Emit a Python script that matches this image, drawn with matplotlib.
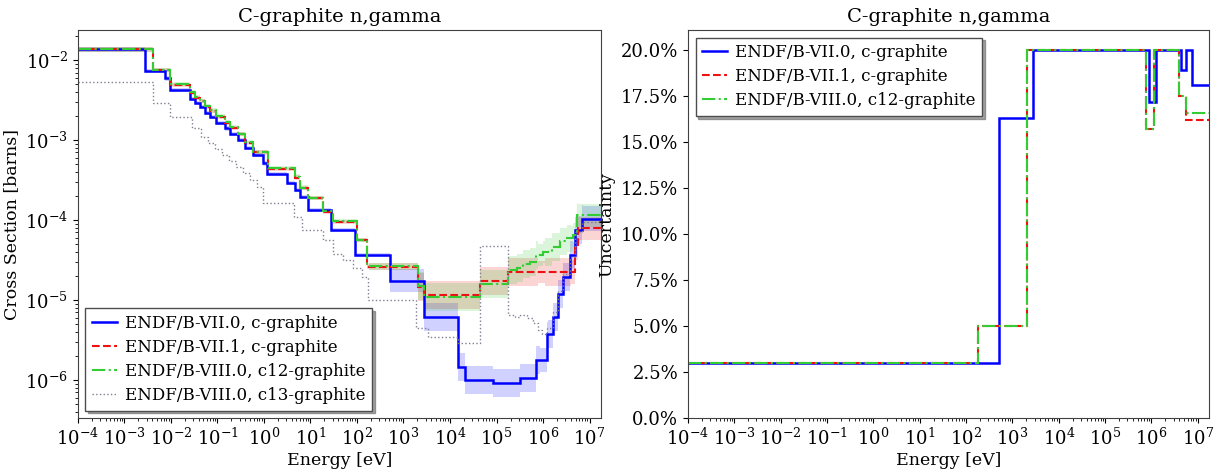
import numpy as np
import matplotlib
matplotlib.use("Agg")
import matplotlib.pyplot as plt
from matplotlib.ticker import LogLocator, PercentFormatter, MultipleLocator

plt.rcParams['font.family'] = ['DejaVu Serif']
plt.rcParams['mathtext.fontset'] = 'dejavuserif'

# ---------------- data ----------------
title = "C-graphite n,gamma"
labels = ["ENDF/B-VII.0, c-graphite", "ENDF/B-VII.1, c-graphite",
          "ENDF/B-VIII.0, c12-graphite", "ENDF/B-VIII.0, c13-graphite"]

# ENDF/B-VII.0 cross section (group edges in eV, values in barns)
e70 = [1e-4, 2.75e-3, 7.4e-3, 9.5e-3, 2.57e-2, 3.3e-2, 4.2e-2, 5.4e-2, 6.9e-2, 9.5e-2,
       0.145, 0.186, 0.28, 0.39, 0.59, 0.97, 1.15, 3.1, 4.7, 5.9, 8.9, 28, 91, 513,
       2750, 1.5e4, 2.1e4, 8.5e4, 3.2e5, 7.2e5, 1.2e6, 1.66e6, 2.1e6, 2.75e6, 3.8e6,
       4.9e6, 6.8e6, 2e7]
xs70 = [1.36e-2, 7.35e-3, 5.9e-3, 4.2e-3, 3.3e-3, 2.9e-3, 2.6e-3, 2.2e-3, 1.95e-3,
        1.65e-3, 1.4e-3, 1.2e-3, 1.0e-3, 7.9e-4, 6.5e-4, 5.1e-4, 3.8e-4, 2.9e-4, 2.4e-4,
        1.95e-4, 1.33e-4, 7.5e-5, 3.65e-5, 1.75e-5, 6.2e-6, 1.47e-6, 1.0e-6, 9.1e-7,
        1.05e-6, 1.78e-6, 3.8e-6, 6.2e-6, 1.2e-5, 1.94e-5, 3.65e-5, 7.5e-5, 1.04e-4]

# ENDF/B-VII.1 cross section
e71 = [1e-4, 4.1e-3, 9.5e-3, 2.57e-2, 3.3e-2, 4.2e-2, 5.4e-2, 6.9e-2, 9.5e-2, 0.145,
       0.186, 0.28, 0.39, 0.59, 1.23, 4.7, 5.9, 8.9, 18.6, 31, 98, 162, 2100, 2700,
       4.5e4, 1.8e5, 4.9e6, 5.7e6, 2e7]
xs71 = [1.36e-2, 7.5e-3, 4.9e-3, 3.9e-3, 3.4e-3, 3.05e-3, 2.6e-3, 2.3e-3, 1.95e-3,
        1.65e-3, 1.42e-3, 1.18e-3, 9.3e-4, 7.0e-4, 4.4e-4, 3.4e-4, 2.5e-4, 1.87e-4,
        1.27e-4, 9.5e-5, 5.6e-5, 2.6e-5, 1.47e-5, 1.15e-5, 1.74e-5, 2.25e-5, 4.5e-5,
        7.9e-5]

# ENDF/B-VIII.0 c12 cross section
e80 = [1e-4, 4.1e-3, 9.5e-3, 2.57e-2, 3.3e-2, 4.2e-2, 5.4e-2, 6.9e-2, 9.5e-2, 0.145,
       0.186, 0.28, 0.39, 0.59, 1.23, 4.7, 5.9, 8.9, 18.6, 31, 98, 162, 2100, 2700,
       4.5e4, 1.8e5, 2.75e5, 3.8e5, 5.2e5, 7.2e5, 1.02e6, 1.55e6, 2.35e6, 3.2e6,
       4.5e6, 5.25e6, 2e7]
xs80 = [1.36e-2, 7.5e-3, 5.0e-3, 4.0e-3, 3.5e-3, 3.1e-3, 2.65e-3, 2.35e-3, 2.0e-3,
        1.7e-3, 1.45e-3, 1.2e-3, 9.5e-4, 7.1e-4, 4.5e-4, 3.5e-4, 2.55e-4, 1.9e-4,
        1.3e-4, 9.7e-5, 5.7e-5, 2.65e-5, 1.5e-5, 1.1e-5, 1.6e-5, 2.37e-5, 2.5e-5,
        2.8e-5, 3.0e-5, 3.65e-5, 4.0e-5, 4.6e-5, 5.4e-5, 5.9e-5, 6.5e-5, 1.15e-4]

# ENDF/B-VIII.0 c13 cross section
e13 = [1e-4, 4.1e-3, 9.5e-3, 2.8e-2, 4.5e-2, 6.3e-2, 8.9e-2, 0.126, 0.178, 0.25,
       0.355, 0.5, 0.71, 0.95, 4.4, 6.5, 18.6, 31, 50, 83, 126, 174, 1900, 3400,
       1.5e4, 4.5e4, 1.8e5, 2.5e5, 3.2e5, 4.5e5, 6.2e5, 7.9e5, 9.3e5, 1.2e6, 1.66e6,
       2.1e6, 2.75e6, 3.8e6, 4.9e6, 6.8e6, 2e7]
xs13 = [5.4e-3, 2.9e-3, 1.95e-3, 1.4e-3, 1.1e-3, 9.3e-4, 7.8e-4, 6.5e-4, 5.5e-4,
        4.6e-4, 3.9e-4, 3.2e-4, 2.6e-4, 1.65e-4, 1.1e-4, 7.5e-5, 5.6e-5, 3.8e-5,
        3.2e-5, 2.5e-5, 1.95e-5, 1.0e-5, 4.5e-6, 3.5e-6, 2.9e-6, 4.7e-5, 6.5e-6,
        6.2e-6, 6.5e-6, 5.9e-6, 5.1e-6, 4.2e-6, 3.8e-6, 4.5e-6, 7.0e-6, 1.3e-5,
        2.1e-5, 3.5e-5, 7.0e-5, 9.5e-5]

# relative uncertainties (group edges in eV, fractions)
u70_e = [1e-4, 513, 2750, 8.7e5, 1.26e6, 4.4e6, 5.6e6, 7.4e6, 2e7]
u70 = [0.03, 0.163, 0.20, 0.172, 0.20, 0.189, 0.20, 0.181]
u71_e = [1e-4, 180, 2100, 7.7e5, 1.12e6, 4.0e6, 5.6e6, 2e7]
u71 = [0.03, 0.05, 0.20, 0.157, 0.20, 0.175, 0.162]
u80_e = [1e-4, 180, 2100, 7.7e5, 1.12e6, 4.0e6, 5.6e6, 2e7]
u80 = [0.03, 0.05, 0.20, 0.157, 0.20, 0.175, 0.166]

colors = ["#0000ff", "#ee1111", "#33cc33", "#7f7f8f"]
styles = ["-", "--", "-.", ":"]

# ---------------- figure ----------------
fig = plt.figure(figsize=(12.16, 4.69), dpi=100)
ax1 = fig.add_axes([0.0641, 0.1087, 0.430, 0.827])
ax2 = fig.add_axes([0.5658, 0.1087, 0.4285, 0.827])


def lookup(edges, vals, x):
    idx = np.searchsorted(np.asarray(edges), x, side='right') - 1
    idx = np.clip(idx, 0, len(vals) - 1)
    return np.asarray(vals)[idx]


def band(ax, e, v, ue, u, color):
    grid = np.unique(np.concatenate([e, ue]))
    mids = np.sqrt(grid[:-1] * grid[1:])
    xs = lookup(e, v, mids)
    uu = lookup(ue, u, mids)
    f = np.exp(2 * uu)
    lo = np.append(xs / f, (xs / f)[-1])
    hi = np.append(xs * f, (xs * f)[-1])
    ax.fill_between(grid, lo, hi, step='post', color=color, alpha=0.18, lw=0)


series = [(e70, xs70, u70_e, u70), (e71, xs71, u71_e, u71), (e80, xs80, u80_e, u80)]
for i, (e, v, ue, u) in enumerate(series):
    band(ax1, e, v, ue, u, colors[i])

lws = [1.8, 1.5, 1.5, 1.0]
allxs = [(e70, xs70), (e71, xs71), (e80, xs80), (e13, xs13)]
for i, (e, v) in enumerate(allxs):
    ax1.stairs(v, e, color=colors[i], ls=styles[i], lw=lws[i], label=labels[i],
               baseline=None)

legkw = dict(fontsize=12, shadow=True, fancybox=False, framealpha=1,
             edgecolor='0.3', handlelength=1.5, handletextpad=0.45,
             borderpad=0.4, labelspacing=0.42, borderaxespad=0.45)

ax1.set_xscale('log')
ax1.set_yscale('log')
ax1.set_xlim(1e-4, 1.75e7)
ax1.set_ylim(3.35e-7, 2.37e-2)
ax1.set_title(title, fontsize=14)
ax1.set_xlabel("Energy [eV]", fontsize=12.5, labelpad=2)
ax1.set_ylabel("Cross Section [barns]", fontsize=12.5)
ax1.xaxis.set_major_locator(LogLocator(base=10, numticks=30))
ax1.xaxis.set_minor_locator(LogLocator(base=10, subs=np.arange(2, 10), numticks=30))
ax1.tick_params(labelsize=13)
ax1.legend(loc='lower left', **legkw)

unc_series = [(u70_e, u70), (u71_e, u71), (u80_e, u80)]
for i, (ue, u) in enumerate(unc_series):
    ax2.stairs(u, ue, color=colors[i], ls=styles[i], lw=lws[i], label=labels[i],
               baseline=None)
ax2.set_xscale('log')
ax2.set_xlim(1e-4, 1.75e7)
ax2.set_ylim(0, 0.2109)
ax2.yaxis.set_major_locator(MultipleLocator(0.025))
ax2.yaxis.set_major_formatter(PercentFormatter(1.0, decimals=1))
ax2.xaxis.set_major_locator(LogLocator(base=10, numticks=30))
ax2.xaxis.set_minor_locator(LogLocator(base=10, subs=np.arange(2, 10), numticks=30))
ax2.set_title(title, fontsize=14)
ax2.set_xlabel("Energy [eV]", fontsize=12.5, labelpad=2)
ax2.set_ylabel("Uncertainty", fontsize=12.5)
ax2.tick_params(labelsize=13)
ax2.legend(loc='upper left', **legkw)

for ax in (ax1, ax2):
    for s in ax.spines.values():
        s.set_color('0.25')

fig.savefig("out.png", dpi=100)
